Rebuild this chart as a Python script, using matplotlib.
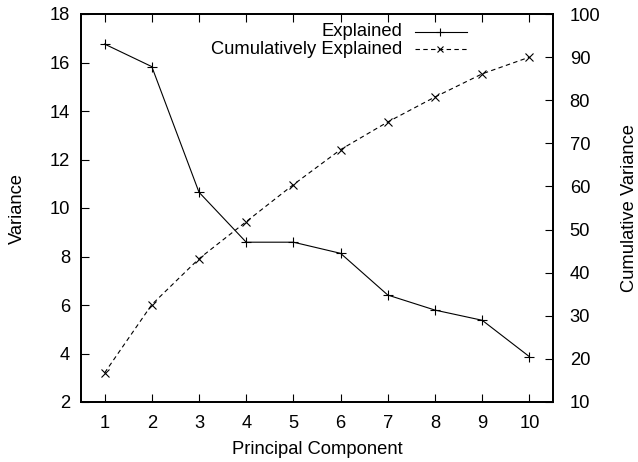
import matplotlib
matplotlib.use("Agg")
import matplotlib.pyplot as plt
from matplotlib.lines import Line2D

plt.rcParams['font.family'] = ['Liberation Sans', 'DejaVu Sans']

components = [1, 2, 3, 4, 5, 6, 7, 8, 9, 10]
explained = [16.76, 15.83, 10.65, 8.59, 8.59, 8.13, 6.41, 5.79, 5.37, 3.87]
cumulative = [16.76, 32.59, 43.24, 51.83, 60.42, 68.55, 74.96, 80.75, 86.12, 89.99]

W, H = 638, 462
fig = plt.figure(figsize=(W / 100, H / 100), dpi=100)
L, R, T, B = 81, 553, 14, 402
ax = fig.add_axes([L / W, (H - B) / H, (R - L) / W, (B - T) / H])
ax2 = ax.twinx()

fs = 13.2
dash = (0, (4, 3))
ax.plot(components, explained, color='black', lw=0.8, marker='+', ms=7, mew=0.8)
ax2.plot(components, cumulative, color='black', lw=0.8, ls=dash,
         marker='x', ms=6, mew=0.8)

ax.set_xlim(0.5, 10.5)
ax.set_ylim(2, 18)
ax2.set_ylim(10, 100)
ax.set_xticks(components)
ax.set_yticks(range(2, 19, 2))
ax2.set_yticks(range(10, 101, 10))

ax.tick_params(axis='x', direction='in', top=True, length=6, width=0.8,
               labelsize=fs, pad=9)
ax.tick_params(axis='y', direction='in', right=False, length=6, width=0.8,
               labelsize=fs, pad=8)
ax2.tick_params(axis='y', direction='in', length=6, width=0.8,
                labelsize=fs, pad=12)

for a in (ax, ax2):
    for s in a.spines.values():
        s.set_linewidth(1.3)

ax.set_xlabel('Principal Component', fontsize=fs, va='center')
ax.xaxis.set_label_coords(0.5, (B - 449) / (B - T))
ax.set_ylabel('Variance', fontsize=fs, va='center')
ax.yaxis.set_label_coords((17 - L) / (R - L), 0.5)
ax2.set_ylabel('Cumulative Variance', fontsize=fs, va='center', rotation=90)
ax2.yaxis.set_label_coords((630 - L) / (R - L), 0.5)

# gnuplot-style key: right-aligned text, sample line to its right
def fx(px):
    return px / W

def fy(py):
    return 1 - py / H

rows = [('Explained', '-', '+', 6), ('Cumulatively Explained', dash, 'x', 5)]
for i, (label, ls, mk, ms) in enumerate(rows):
    y = 32 + i * 17
    fig.text(fx(402), fy(y), label, ha='right', va='center', fontsize=fs)
    fig.add_artist(Line2D([fx(415), fx(467)], [fy(y), fy(y)], color='black',
                          lw=0.8, ls=ls))
    fig.add_artist(Line2D([fx(440)], [fy(y)], color='black', marker=mk,
                          ms=ms, mew=0.8, ls='none'))

fig.savefig('out.png', dpi=100)
